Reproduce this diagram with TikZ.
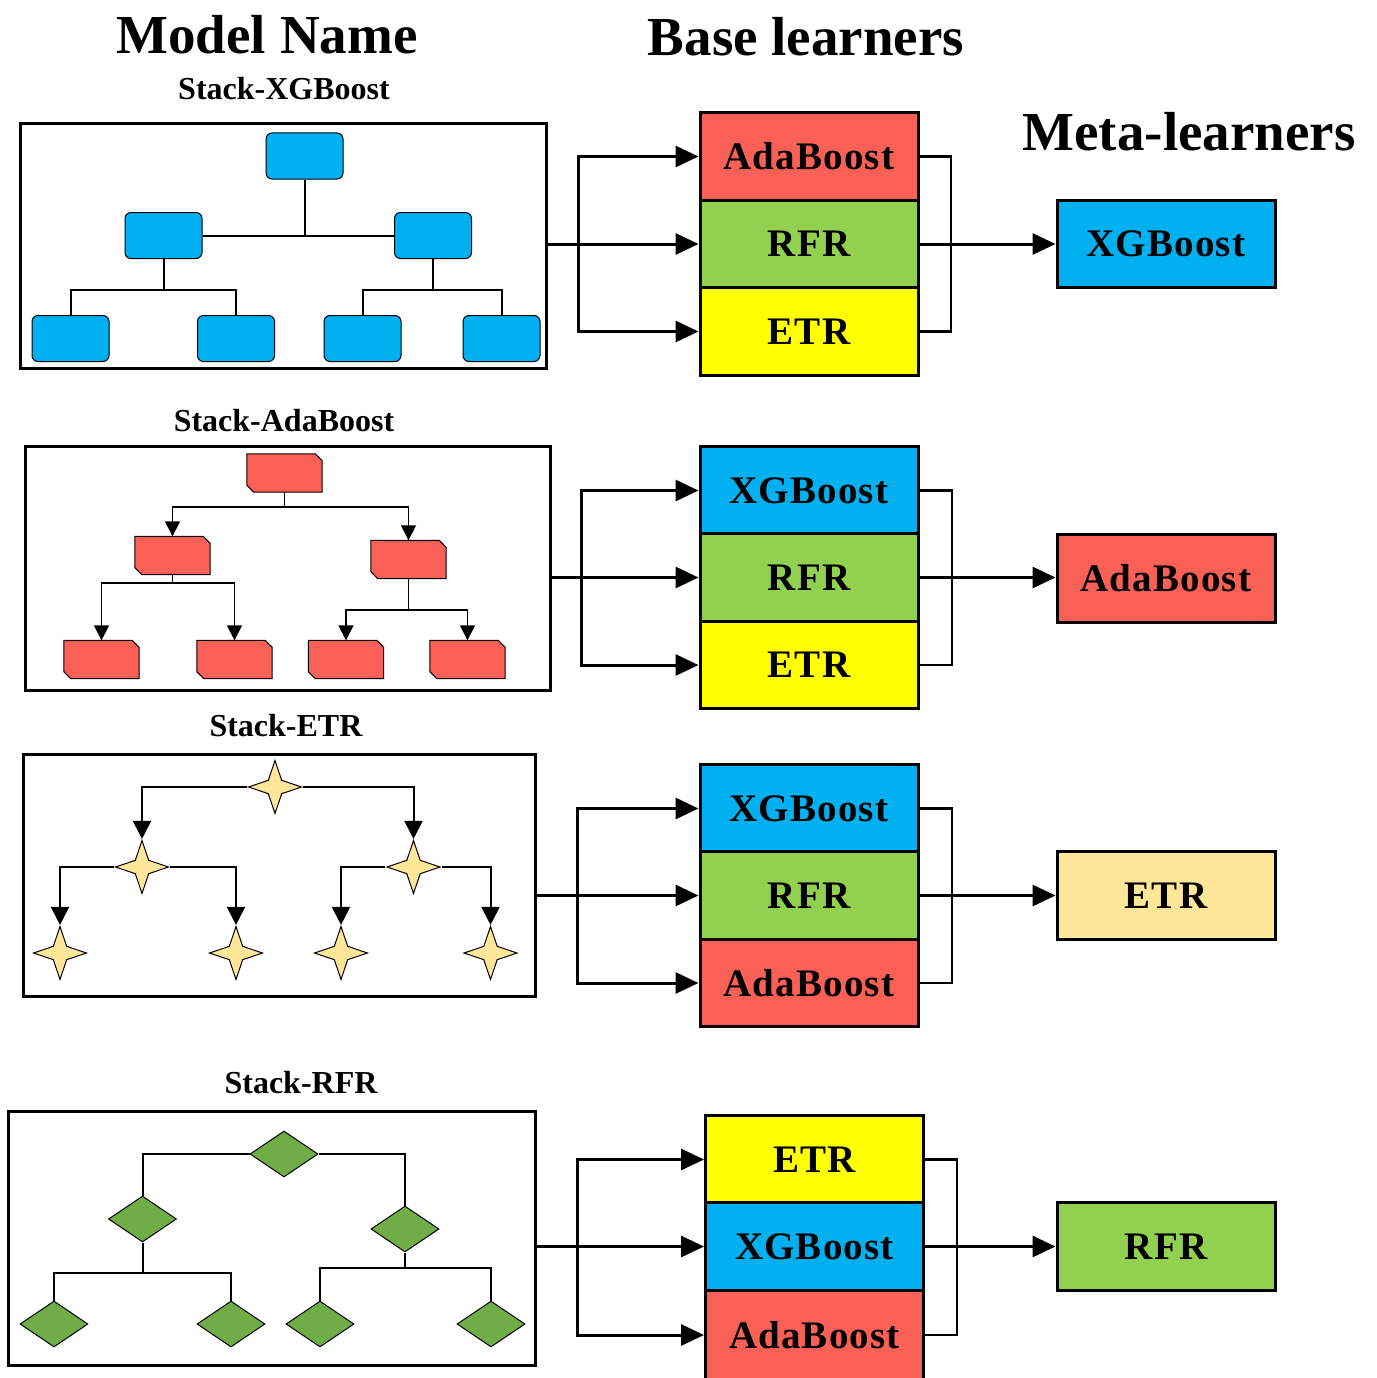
\documentclass[tikz,border=0pt]{standalone}
\usepackage{fontspec}
\setmainfont{Liberation Serif}
\newfontfamily\boxfont[LetterSpace=3]{Liberation Serif}
\usetikzlibrary{arrows.meta,shapes.geometric}
\definecolor{cblue}{HTML}{00B0F0}
\definecolor{cred}{HTML}{FA6055}
\definecolor{clgreen}{HTML}{92D050}
\definecolor{cyellow}{HTML}{FFFF00}
\definecolor{cpale}{HTML}{FFE699}
\definecolor{cdgreen}{HTML}{70AD47}
\begin{document}
\begin{tikzpicture}[x=1pt,y=-1pt,
  title/.style={font=\bfseries\fontsize{55}{60}\selectfont, anchor=base, inner sep=0},
  subtitle/.style={font=\bfseries\fontsize{32}{36}\selectfont, anchor=base, inner sep=0},
  lbox/.style={draw, line width=3pt, inner sep=0},
  learner/.style={draw, line width=3pt, inner sep=0, minimum width=218pt, minimum height=87.5pt, font=\boxfont\bfseries\fontsize{39}{41}\selectfont},
  conn/.style={line width=3pt},
  rline/.style={line width=2.5pt},
  arr/.style={line width=3pt, -{Triangle[length=23pt,width=21pt]}},
  xnode/.style={draw, line width=1pt, fill=cblue, rounded corners=6pt, minimum width=77pt, minimum height=46pt, inner sep=0},
  anode/.style={minimum width=75pt, minimum height=38pt, inner sep=0},
  snip/.style={draw, line width=1pt, fill=cred},
  enode/.style={star, star points=4, star point ratio=2.8, draw, line width=1pt, fill=cpale, minimum size=53pt, inner sep=0},
  rnode/.style={diamond, draw, line width=1pt, fill=cdgreen, minimum width=68pt, minimum height=46pt, inner sep=0},
  tline/.style={line width=2pt},
  tarrA/.style={line width=1.6pt, -{Triangle[length=15pt,width=15pt]}},
  tarrE/.style={line width=2pt, -{Triangle[length=18pt,width=18pt]}}
]
\useasboundingbox[fill=white] (0,0) rectangle (1376,1378);

% titles
\node[title] (tmodel) at (267,54) {Model Name};
\node[title] (tbase) at (806,56) {Base learners};
\node[title] (tmeta) at (1189,150) {Meta-learners};
\node[subtitle] (s1) at (284,100) {Stack-XGBoost};
\node[subtitle] (s2) at (284,431) {Stack-AdaBoost};
\node[subtitle] (s3) at (286,736) {Stack-ETR};
\node[subtitle] (s4) at (301,1093) {Stack-RFR};

% left frames
\node[lbox, minimum width=526pt, minimum height=244pt] (L1) at (283,246) {};
\node[lbox, minimum width=525pt, minimum height=244pt] (L2) at (287.5,568) {};
\node[lbox, minimum width=512pt, minimum height=242pt] (L3) at (279,875) {};
\node[lbox, minimum width=527pt, minimum height=254pt] (L4) at (271.5,1238) {};

% ---------- tree 1 (XGBoost, rounded boxes)
\node[xnode] (x1r) at (304.5,156) {};
\node[xnode] (x1ml) at (163.5,235.5) {};
\node[xnode] (x1mr) at (433,235.5) {};
\node[xnode] (x1l1) at (70.5,338.5) {};
\node[xnode] (x1l2) at (236,338.5) {};
\node[xnode] (x1l3) at (362.5,338.5) {};
\node[xnode] (x1l4) at (501.5,338.5) {};
\coordinate (x1b1) at (163.5,290);
\coordinate (x1b2) at (433,290);
\draw[tline] (x1ml.east) -- (x1mr.west);
\draw[tline] (x1r.south) -- (x1r.south |- x1ml.east);
\draw[tline] (x1ml.south) -- (x1b1);
\draw[tline] (x1l1.north) |- (x1b1) -| (x1l2.north);
\draw[tline] (x1mr.south) -- (x1b2);
\draw[tline] (x1l3.north) |- (x1b2) -| (x1l4.north);

% ---------- tree 2 (AdaBoost, snipped boxes)
\node[anode] (a2r) at (284.5,473) {};
\node[anode] (a2ml) at (172.5,555.5) {};
\node[anode] (a2mr) at (408.5,559.5) {};
\node[anode] (a2l1) at (101.5,659.5) {};
\node[anode] (a2l2) at (234.5,659.5) {};
\node[anode] (a2l3) at (346,659.5) {};
\node[anode] (a2l4) at (467.5,659.5) {};
\foreach \n in {a2r,a2ml,a2mr,a2l1,a2l2,a2l3,a2l4}{
  \draw[snip] (\n.north west) -- ([xshift=-7pt]\n.north east) -- ([yshift=-7pt]\n.north east)
    -- (\n.south east) -- ([xshift=7pt]\n.south west) -- ([yshift=7pt]\n.south west) -- cycle;
}
\coordinate (a2b0) at (284.5,507);
\coordinate (a2b1) at (172.5,583);
\coordinate (a2b2) at (408.5,610);
\draw[tline, line width=1.6pt] (a2r.south) -- (a2b0);
\draw[tarrA] (a2b0) -| (a2ml.north);
\draw[tarrA] (a2b0) -| (a2mr.north);
\draw[tline, line width=1.6pt] (a2ml.south) -- (a2b1);
\draw[tarrA] (a2b1) -| (a2l1.north);
\draw[tarrA] (a2b1) -| (a2l2.north);
\draw[tline, line width=1.6pt] (a2mr.south) -- (a2b2);
\draw[tarrA] (a2b2) -| (a2l3.north);
\draw[tarrA] (a2b2) -| (a2l4.north);

% ---------- tree 3 (ETR, stars)
\node[enode] (e3r) at (275,787) {};
\node[enode] (e3ml) at (142,867) {};
\node[enode] (e3mr) at (413.5,867) {};
\node[enode] (e3l1) at (60,953) {};
\node[enode] (e3l2) at (236,953) {};
\node[enode] (e3l3) at (341,953) {};
\node[enode] (e3l4) at (490.5,953) {};
\draw[tarrE] (e3r.west) -| (e3ml.north);
\draw[tarrE] (e3r.east) -| (e3mr.north);
\draw[tarrE] (e3ml.west) -| (e3l1.north);
\draw[tarrE] (e3ml.east) -| (e3l2.north);
\draw[tarrE] (e3mr.west) -| (e3l3.north);
\draw[tarrE] (e3mr.east) -| (e3l4.north);

% ---------- tree 4 (RFR, diamonds)
\node[rnode] (r4r) at (284,1154) {};
\node[rnode] (r4ml) at (142.5,1219) {};
\node[rnode] (r4mr) at (405,1229) {};
\node[rnode] (r4l1) at (54,1324) {};
\node[rnode] (r4l2) at (231,1324) {};
\node[rnode] (r4l3) at (320,1324) {};
\node[rnode] (r4l4) at (491,1324) {};
\coordinate (r4b1) at (142.5,1273);
\coordinate (r4b2) at (405,1268);
\draw[tline] (r4r.west) -| (r4ml.north);
\draw[tline] (r4r.east) -| (r4mr.north);
\draw[tline] (r4ml.south) -- (r4b1);
\draw[tline] (r4l1.north) |- (r4b1) -| (r4l2.north);
\draw[tline] (r4mr.south) -- (r4b2);
\draw[tline] (r4l3.north) |- (r4b2) -| (r4l4.north);

% ---------- base learners
\node[learner, fill=cred] (B1a) at (809,156.5) {AdaBoost};
\node[learner, fill=clgreen] (B1b) at (809,244) {RFR};
\node[learner, fill=cyellow] (B1c) at (809,331.5) {ETR};

\node[learner, fill=cblue] (B2a) at (809,490.5) {XGBoost};
\node[learner, fill=clgreen] (B2b) at (809,577.5) {RFR};
\node[learner, fill=cyellow] (B2c) at (809,665) {ETR};

\node[learner, fill=cblue] (B3a) at (809,808.5) {XGBoost};
\node[learner, fill=clgreen] (B3b) at (809,895.5) {RFR};
\node[learner, fill=cred] (B3c) at (809,983) {AdaBoost};

\node[learner, fill=cyellow] (B4a) at (814.5,1159.5) {ETR};
\node[learner, fill=cblue] (B4b) at (814.5,1246.5) {XGBoost};
\node[learner, fill=cred, minimum height=90pt] (B4c) at (814.5,1335) {AdaBoost};

% ---------- meta learners
\node[learner, fill=cblue] (M1) at (1166,244) {XGBoost};
\node[learner, fill=cred] (M2) at (1166,578.5) {AdaBoost};
\node[learner, fill=cpale] (M3) at (1166,895.5) {ETR};
\node[learner, fill=clgreen] (M4) at (1166,1246.5) {RFR};

% ---------- connectors
\coordinate (T1) at (578,0);   \coordinate (R1) at (951,0);
\coordinate (T2) at (581,0);   \coordinate (R2) at (952,0);
\coordinate (T3) at (577,0);   \coordinate (R3) at (952,0);
\coordinate (T4) at (577,0);   \coordinate (R4) at (957,0);

\draw[arr] (B1b.west -| L1.east) -- (B1b.west);
\draw[arr] (B1b.west -| T1) |- (B1a.west);
\draw[arr] (B1b.west -| T1) |- (B1c.west);
\draw[rline] (B1a.east) -| (R1 |- B1c.east) -- (B1c.east);
\draw[arr] (B1b.east) -- (M1.west);

\draw[arr] (B2b.west -| L2.east) -- (B2b.west);
\draw[arr] (B2b.west -| T2) |- (B2a.west);
\draw[arr] (B2b.west -| T2) |- (B2c.west);
\draw[rline] (B2a.east) -| (R2 |- B2c.east) -- (B2c.east);
\draw[arr] (B2b.east) -- (M2.west |- B2b.east);

\draw[arr] (B3b.west -| L3.east) -- (B3b.west);
\draw[arr] (B3b.west -| T3) |- (B3a.west);
\draw[arr] (B3b.west -| T3) |- (B3c.west);
\draw[rline] (B3a.east) -| (R3 |- B3c.east) -- (B3c.east);
\draw[arr] (B3b.east) -- (M3.west);

\draw[arr] (B4b.west -| L4.east) -- (B4b.west);
\draw[arr] (B4b.west -| T4) |- (B4a.west);
\draw[arr] (B4b.west -| T4) |- (B4c.west);
\draw[rline] (B4a.east) -| (R4 |- B4c.east) -- (B4c.east);
\draw[arr] (B4b.east) -- (M4.west);
\end{tikzpicture}
\end{document}
